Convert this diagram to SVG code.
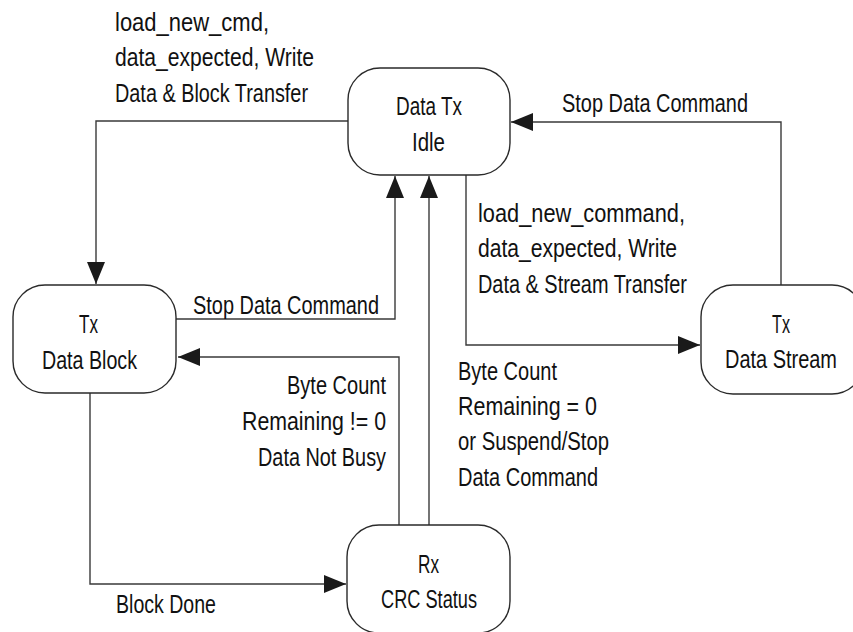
<svg xmlns="http://www.w3.org/2000/svg" width="853" height="632" viewBox="0 0 853 632">
<style>
.node rect{fill:#fff;stroke:#2a2a2a;stroke-width:1.4}
.edge{fill:none;stroke:#3a3a3a;stroke-width:1.4}
text{font-family:"Liberation Sans",Arial,sans-serif;font-size:26px;fill:#111}
</style>
<defs>
<marker id="arr" markerUnits="userSpaceOnUse" markerWidth="22" markerHeight="18" refX="22" refY="9" orient="auto" viewBox="0 0 22 18">
<path d="M0,0 L22,9 L0,18 Z" fill="#1a1a1a"/>
</marker>
</defs>
<rect width="853" height="632" fill="#fff"/>
<g id="connectors">
<path class="edge" d="M348,121 H96 V284" marker-end="url(#arr)"/>
<path class="edge" d="M176,319 H395 V176" marker-end="url(#arr)"/>
<path class="edge" d="M429,525 V176" marker-end="url(#arr)"/>
<path class="edge" d="M466,175 V345 H700" marker-end="url(#arr)"/>
<path class="edge" d="M781,285 V122 H511" marker-end="url(#arr)"/>
<path class="edge" d="M399,525 V357 H178" marker-end="url(#arr)"/>
<path class="edge" d="M90,393 V584 H346" marker-end="url(#arr)"/>
</g>
<g id="node-idle" class="node">
<rect x="348" y="68" width="162" height="107" rx="32"/>
<text x="396" y="115" textLength="66" lengthAdjust="spacingAndGlyphs">Data Tx</text>
<text x="412" y="151" textLength="33" lengthAdjust="spacingAndGlyphs">Idle</text>
</g>
<g id="node-block" class="node">
<rect x="13" y="285" width="163" height="108" rx="32"/>
<text x="79" y="333" textLength="19" lengthAdjust="spacingAndGlyphs">Tx</text>
<text x="42" y="369" textLength="95" lengthAdjust="spacingAndGlyphs">Data Block</text>
</g>
<g id="node-stream" class="node">
<rect x="701" y="285" width="163" height="109" rx="32"/>
<text x="772" y="333" textLength="18" lengthAdjust="spacingAndGlyphs">Tx</text>
<text x="725" y="368" textLength="112" lengthAdjust="spacingAndGlyphs">Data Stream</text>
</g>
<g id="node-crc" class="node">
<rect x="347" y="525" width="163" height="108" rx="32"/>
<text x="418" y="573" textLength="21" lengthAdjust="spacingAndGlyphs">Rx</text>
<text x="381" y="608" textLength="96" lengthAdjust="spacingAndGlyphs">CRC Status</text>
</g>
<g id="labels">
<text x="115" y="31" textLength="154" lengthAdjust="spacingAndGlyphs">load_new_cmd,</text>
<text x="115" y="66" textLength="199" lengthAdjust="spacingAndGlyphs">data_expected, Write</text>
<text x="115" y="102" textLength="193" lengthAdjust="spacingAndGlyphs">Data &amp; Block Transfer</text>
<text x="562" y="112" textLength="186" lengthAdjust="spacingAndGlyphs">Stop Data Command</text>
<text x="478" y="222" textLength="207" lengthAdjust="spacingAndGlyphs">load_new_command,</text>
<text x="478" y="257" textLength="199" lengthAdjust="spacingAndGlyphs">data_expected, Write</text>
<text x="478" y="293" textLength="209" lengthAdjust="spacingAndGlyphs">Data &amp; Stream Transfer</text>
<text x="193" y="314" textLength="186" lengthAdjust="spacingAndGlyphs">Stop Data Command</text>
<text x="287" y="394" textLength="99" lengthAdjust="spacingAndGlyphs">Byte Count</text>
<text x="242" y="430" textLength="144" lengthAdjust="spacingAndGlyphs">Remaining != 0</text>
<text x="258" y="466" textLength="128" lengthAdjust="spacingAndGlyphs">Data Not Busy</text>
<text x="458" y="380" textLength="99" lengthAdjust="spacingAndGlyphs">Byte Count</text>
<text x="458" y="415" textLength="139" lengthAdjust="spacingAndGlyphs">Remaining = 0</text>
<text x="458" y="450" textLength="151" lengthAdjust="spacingAndGlyphs">or Suspend/Stop</text>
<text x="458" y="486" textLength="140" lengthAdjust="spacingAndGlyphs">Data Command</text>
<text x="116" y="613" textLength="100" lengthAdjust="spacingAndGlyphs">Block Done</text>
</g>
</svg>
